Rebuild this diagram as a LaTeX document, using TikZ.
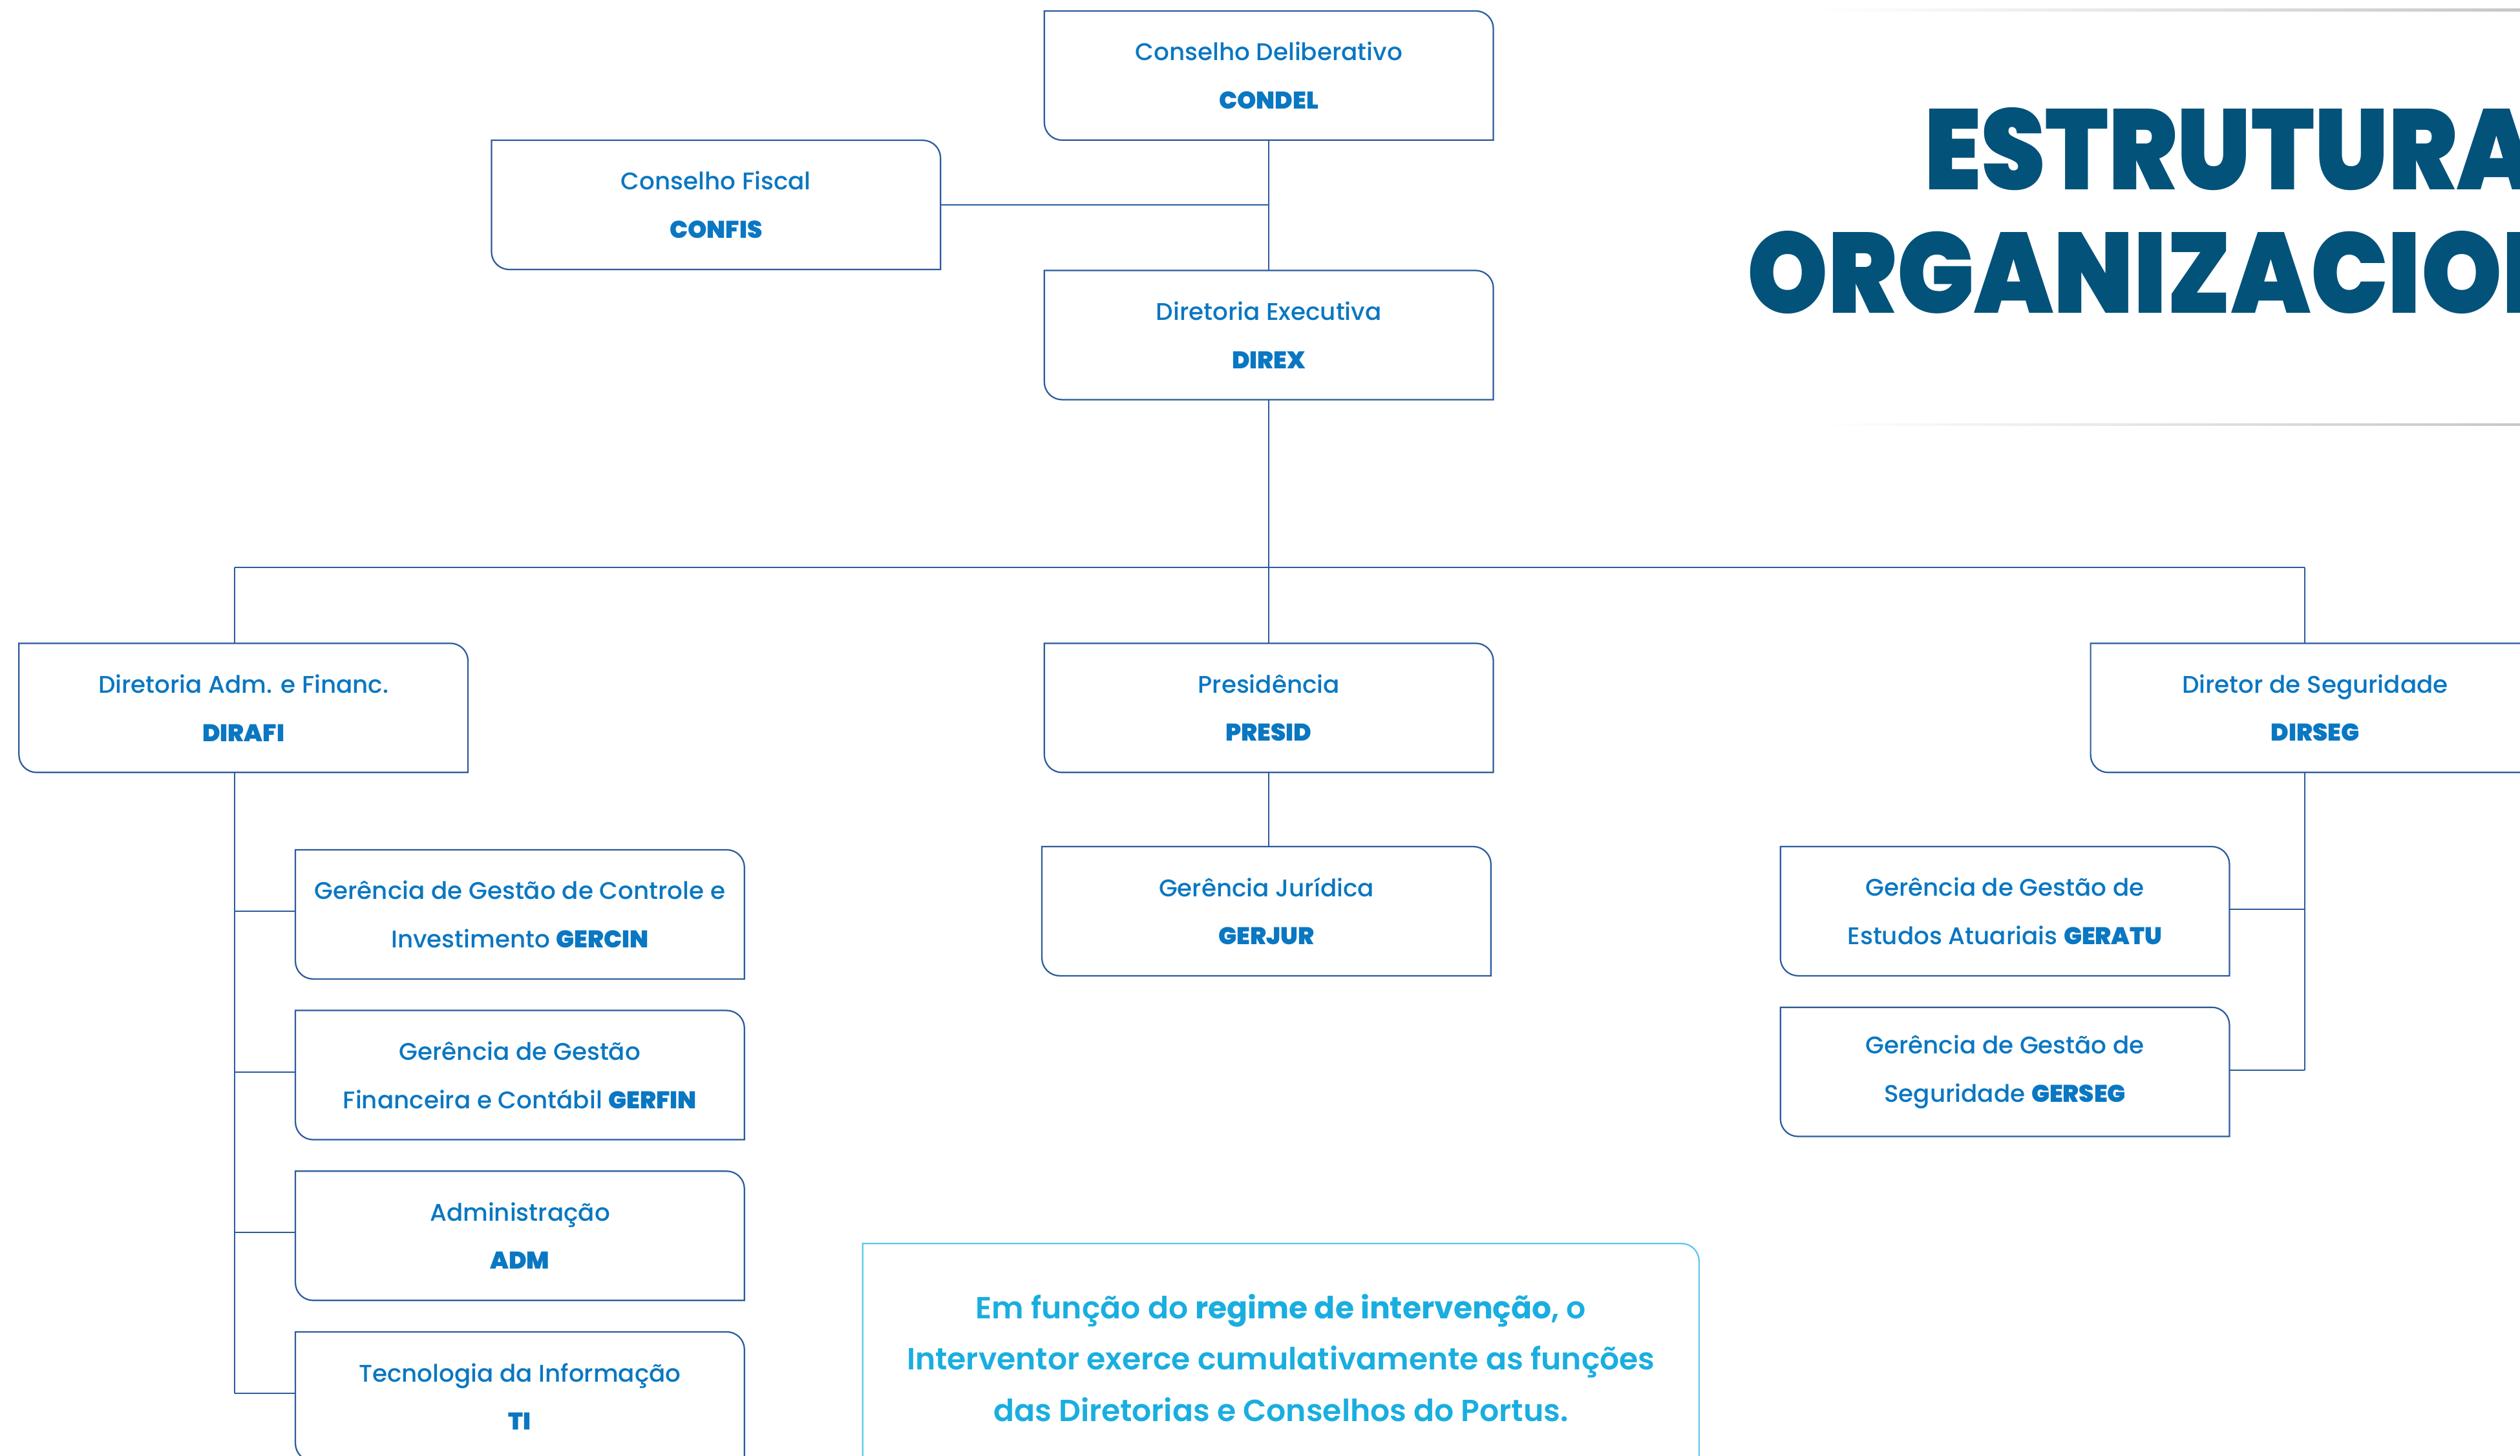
\documentclass[tikz,border=0pt]{standalone}
\usepackage{fontspec}
\setmainfont{Poppins}[UprightFont=* Medium, BoldFont=* Black]
\newfontfamily\notefont{Poppins}[UprightFont=* SemiBold, BoldFont=* Bold]
\newfontfamily\titlefont{Poppins}[UprightFont=* Black, FakeStretch=0.9]
\definecolor{boxline}{HTML}{2C5C9C}
\definecolor{boxtext}{HTML}{0A77C2}
\definecolor{titleblue}{HTML}{03527A}
\definecolor{notecyan}{HTML}{1AAEE0}
\definecolor{noteline}{HTML}{5CC8EC}
\tikzset{
  unit/.style={minimum width=279pt, minimum height=80pt, inner sep=0pt,
    align=center, text=boxtext, font=\fontsize{15}{30}\selectfont},
  wire/.style={draw=boxline, line width=0.8pt},
  headline/.style={anchor=base west, text=titleblue, inner sep=0pt,
    font=\titlefont\fontsize{71}{71}\selectfont},
}
\newcommand{\cornerbox}[3]{% node, radius, colour
  \draw[line width=0.9pt, draw=#3] (#1.north west) -- ([xshift=-#2]#1.north east)
    arc[start angle=90, end angle=0, radius=#2] -- (#1.south east)
    -- ([xshift=#2]#1.south west) arc[start angle=270, end angle=180, radius=#2] -- cycle;}
\begin{document}
\begin{tikzpicture}[x=1pt, y=-1pt]
\useasboundingbox (0,0) rectangle (1568,906);
\clip (0,0) rectangle (1568,906);
\fill[white] (0,0) rectangle (1568,906);

% title card edges
\shade[left color=white, right color=black!22] (1130,5.5) rectangle (1568,7);
\shade[left color=white, right color=black!22] (1130,263.5) rectangle (1568,265);
\node[headline] (t1) at (1197,118) {ESTRUTURA};
\node[headline] (t2) at (1087,195) {ORGANIZACIONAL};

% units
\node[unit] (condel) at (789.5,47) {Conselho Deliberativo\\\textbf{CONDEL}};
\node[unit] (confis) at (445.5,127.5) {Conselho Fiscal\\\textbf{CONFIS}};
\node[unit] (direx)  at (789.5,208.5) {Diretoria Executiva\\\textbf{DIREX}};
\node[unit] (dirafi) at (151.5,440.5) {Diretoria Adm. e Financ.\\\textbf{DIRAFI}};
\node[unit] (presid) at (789.5,440.5) {Presidência\\\textbf{PRESID}};
\node[unit] (dirseg) at (1440.5,440.5) {Diretor de Seguridade\\\textbf{DIRSEG}};
\node[unit] (gercin) at (323.5,569) {Gerência de Gestão de Controle e\\Investimento \textbf{GERCIN}};
\node[unit] (gerfin) at (323.5,669) {Gerência de Gestão\\Financeira e Contábil \textbf{GERFIN}};
\node[unit] (adm)    at (323.5,769) {Administração\\\textbf{ADM}};
\node[unit] (ti)     at (323.5,869) {Tecnologia da Informação\\\textbf{TI}};
\node[unit] (gerjur) at (788,567) {Gerência Jurídica\\\textbf{GERJUR}};
\node[unit] (geratu) at (1247.5,567) {Gerência de Gestão de\\Estudos Atuariais \textbf{GERATU}};
\node[unit] (gerseg) at (1247.5,667) {Gerência de Gestão de\\Seguridade \textbf{GERSEG}};

\foreach \n in {condel,confis,direx,dirafi,presid,dirseg,gercin,gerfin,adm,ti,gerjur,geratu,gerseg}
  {\cornerbox{\n}{11pt}{boxline}}

% note
\node[minimum width=520pt, minimum height=142pt, inner sep=0pt, align=center,
  text=notecyan, font=\notefont\fontsize{19}{32}\selectfont] (note) at (797,845)
  {Em função do \textbf{regime de intervenção}, o\\Interventor exerce cumulativamente as funções\\das Diretorias e Conselhos do Portus.};
\cornerbox{note}{11pt}{noteline}

% connectors
\draw[wire] (condel.south) -- (direx.north);
\draw[wire] (confis.east) -- (confis.east -| condel.south);
\draw[wire] (direx.south) -- (presid.north);
\coordinate (ljoin) at (146,353);
\coordinate (rjoin) at (1434,353);
\draw[wire] (ljoin) -- (rjoin);
\draw[wire] (ljoin) -- (ljoin |- dirafi.north);
\draw[wire] (rjoin) -- (rjoin |- dirseg.north);
\draw[wire] (ljoin |- dirafi.south) -- ([yshift=2pt]ljoin |- ti.west);
\foreach \n in {gercin,gerfin,adm,ti} \draw[wire] ([yshift=2pt]ljoin |- \n.west) -- ([yshift=2pt]\n.west);
\draw[wire] (presid.south) -- (presid.south |- gerjur.north);
\draw[wire] (rjoin |- dirseg.south) -- ([yshift=1pt]rjoin |- gerseg.east);
\foreach \n in {geratu,gerseg} \draw[wire] ([yshift=1pt]\n.east) -- ([yshift=1pt]rjoin |- \n.east);
\end{tikzpicture}
\end{document}
